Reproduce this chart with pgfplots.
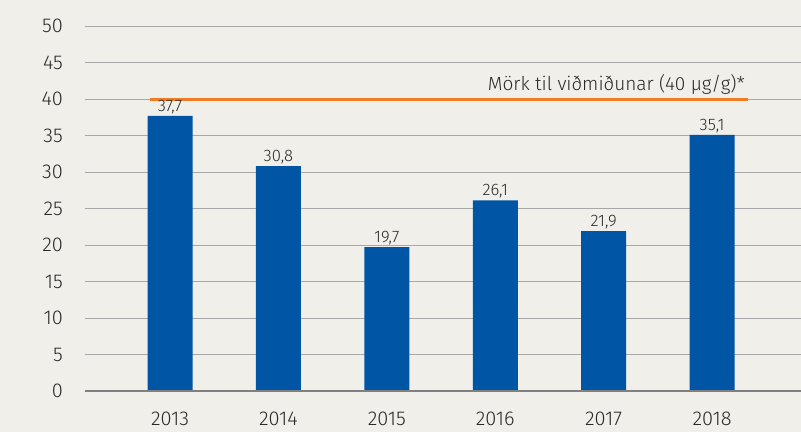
\documentclass[border=0pt]{standalone}
\usepackage{fontspec}
\setmainfont{Fira Sans}[UprightFont={* Light}]
\usepackage{pgfplots}
\pgfplotsset{compat=1.18}
\definecolor{bgc}{HTML}{F0EFEA}
\definecolor{barblue}{HTML}{0055A5}
\definecolor{limitorange}{HTML}{F07D23}
\definecolor{gridgray}{HTML}{A8A8A8}
\definecolor{txt}{HTML}{2A2A2A}
\begin{document}
\begin{tikzpicture}
\fill[bgc] (-63.75pt,-30.75pt) rectangle (537pt,293.25pt);
\begin{axis}[
    scale only axis,
    width=537pt, height=273.75pt,
    xmin=-0.784, xmax=5.82,
    ymin=0, ymax=50,
    axis line style={draw=none},
    ytick={0,5,...,50},
    xtick={0,1,2,3,4,5},
    xticklabels={2013,2014,2015,2016,2017,2018},
    ymajorgrids,
    grid style={gridgray, line width=0.6pt},
    major tick length=0pt,
    tick label style={font=\fontsize{15}{18}\selectfont, text=txt},
    yticklabel style={anchor=east, xshift=-13pt},
    xticklabel style={anchor=north, yshift=-12pt},
    /pgf/number format/assume math mode=true,
    clip=false,
]
\addplot[ybar, bar width=33.75pt, fill=barblue, draw=none,
    nodes near coords,
    every node near coord/.append style={font=\fontsize{12.5}{14}\selectfont, text=txt, yshift=-2pt},
    /pgf/number format/.cd, fixed, fixed zerofill, precision=1, use comma, assume math mode=true]
    coordinates {(0,37.7) (1,30.8) (2,19.7) (3,26.1) (4,21.9) (5,35.1)};
\draw[gray, line width=1.5pt] (axis cs:-0.784,0) -- (axis cs:5.82,0);
\addplot[limitorange, line width=2.25pt] coordinates {(-0.185,40) (5.33,40)};
\node[anchor=south east, font=\fontsize{14.3}{16}\selectfont, text=txt, inner sep=2pt, yshift=1pt]
    at (axis cs:5.33,40) {Mörk til viðmiðunar (40 µg/g)*};
\end{axis}
\pgfresetboundingbox
\useasboundingbox (-63.75pt,-30.75pt) rectangle (537pt,293.25pt);
\end{tikzpicture}
\end{document}
